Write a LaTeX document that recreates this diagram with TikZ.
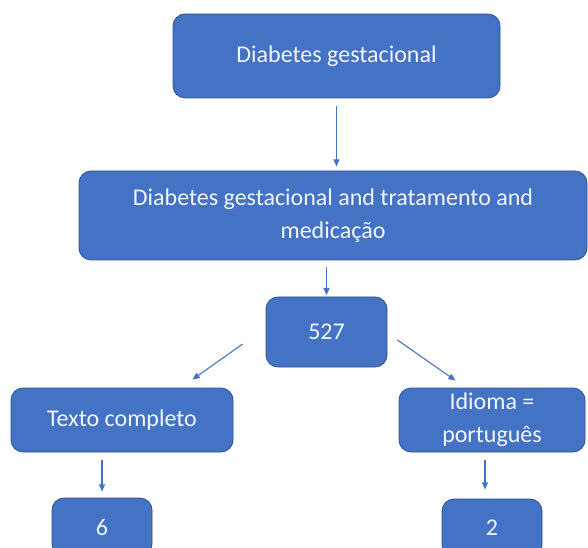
\documentclass[tikz,border=0pt]{standalone}
\usepackage{fontspec}
\setmainfont{Carlito}
\usetikzlibrary{arrows.meta,calc}
\definecolor{box-fill}{RGB}{68,114,196}
\definecolor{box-line}{RGB}{47,82,143}
\definecolor{box-text}{RGB}{242,245,251}
\tikzset{
  box/.style={draw=box-line, fill=box-fill, text=box-text, rounded corners=9pt, line width=0.6pt, align=center, inner sep=0pt, font=\fontsize{18}{24.75}\selectfont},
  arrow/.style={-{Triangle[length=5.5pt,width=4.5pt]}, line width=0.8pt, draw=box-fill}
}
\begin{document}
\begin{tikzpicture}[x=0.75pt,y=-0.75pt]
\useasboundingbox (0,0) rectangle (588,548);
\node[box, minimum width=245.25pt, minimum height=63pt] (top) at (336.5,56) {Diabetes gestacional};
\node[box, minimum width=381pt, minimum height=66.75pt] (query) at (333,215.5) {Diabetes gestacional and tratamento and\\medicação};
\node[box, minimum width=90.75pt, minimum height=52.5pt] (count) at (326.5,332) {527};
\node[box, minimum width=166.5pt, minimum height=48pt] (full) at (122,420) {Texto completo};
\node[box, minimum width=139.5pt, minimum height=48pt] (lang) at (492,420) {Idioma =\\português};
\node[box, minimum width=75pt, minimum height=43.5pt] (six) at (102,527) {6};
\node[box, minimum width=75pt, minimum height=43.5pt] (two) at (492,528) {2};

\draw[arrow, shorten <=6pt, shorten >=3pt] (top.south) -- (top.south |- query.north);
\draw[arrow, shorten <=5pt, shorten >=1pt] (count.north |- query.south) -- (count.north);
\draw[arrow] ([shift={(-23,12)}]count.west) -- ([shift={(-41,-8)}]full.north east);
\draw[arrow] ([shift={(10,8)}]count.east) -- ([shift={(57,-7)}]lang.north west);
\draw[arrow, shorten <=6pt, shorten >=4.5pt] (full.south -| six.north) -- (six.north);
\draw[arrow, shorten <=6pt, shorten >=6.75pt] ([shift={(-7,0)}]lang.south) -- ([shift={(-7,0)}]two.north);
\end{tikzpicture}
\end{document}
